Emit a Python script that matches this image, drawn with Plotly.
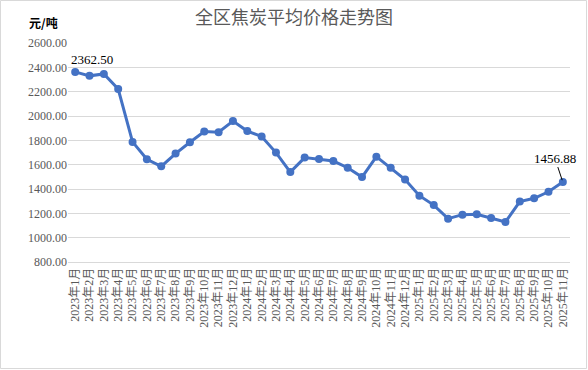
import plotly.graph_objects as go

months = [f"2023年{m}月" for m in range(1, 13)] + [f"2024年{m}月" for m in range(1, 13)] + [f"2025年{m}月" for m in range(1, 12)]
prices = [2362.50, 2330, 2346, 2222, 1787, 1644, 1586, 1691, 1784, 1873, 1867, 1958,
          1876, 1832, 1699, 1539, 1658, 1647, 1630, 1575, 1498, 1666, 1575, 1478,
          1345, 1268, 1156, 1189, 1192, 1162, 1129, 1297, 1324, 1377, 1456.88]
y_ticks = [800, 1000, 1200, 1400, 1600, 1800, 2000, 2200, 2400, 2600]

W, H = 588, 370
L, R, T, B = 68, 18, 43, 108
pw, ph = W - L - R, H - T - B

serif = "Liberation Serif, Times New Roman, Noto Sans CJK SC, serif"
grey = "#595959"

fig = go.Figure()
fig.add_trace(go.Scatter(
    x=months, y=prices, mode="lines+markers",
    line=dict(color="#4472C4", width=3),
    marker=dict(color="#4472C4", size=8),
    hoverinfo="x+y", showlegend=False,
))

fig.add_annotation(x=months[0], y=prices[0], text=f"{prices[0]:.2f}", showarrow=False,
                   xanchor="left", yanchor="bottom", xshift=-6, yshift=3,
                   font=dict(family=serif, size=13, color="#000000"))
fig.add_annotation(x=months[-1], y=prices[-1], text=f"{prices[-1]:.2f}", showarrow=True,
                   arrowhead=0, arrowwidth=1, arrowcolor="#000000", ax=-8, ay=-24,
                   standoff=2, font=dict(family=serif, size=13, color="#000000"))

fig.add_annotation(xref="paper", yref="paper", x=-41 / pw, y=1 + 21 / ph, text="<b>元/吨</b>",
                   showarrow=False, xanchor="left", yanchor="middle",
                   font=dict(family="Noto Sans CJK SC", size=12, color="#000000"))

fig.add_shape(type="rect", xref="paper", yref="paper",
              x0=-(L - 0.5) / pw, x1=1 + (R - 1.5) / pw,
              y0=-(B - 1.5) / ph, y1=1 + (T - 0.5) / ph,
              line=dict(color="#D9D9D9", width=1), layer="below")

fig.update_layout(
    width=W, height=H,
    margin=dict(l=L, r=R, t=T, b=B),
    paper_bgcolor="#FFFFFF", plot_bgcolor="#FFFFFF",
    title=dict(text="全区焦炭平均价格走势图", x=0.5, xref="container", xanchor="center",
               y=1 - 18 / H, yanchor="middle",
               font=dict(family="Noto Sans CJK SC", size=18, color=grey)),
    xaxis=dict(type="category", tickangle=-90, showgrid=False, ticks="",
               showline=True, linecolor="#D9D9D9", linewidth=1,
               tickfont=dict(family=serif, size=12, color=grey),
               range=[-0.5, len(months) - 0.5]),
    yaxis=dict(range=[800, 2600], tickvals=y_ticks, ticktext=[f"{v:.2f}" for v in y_ticks],
               showgrid=True, gridcolor="#D9D9D9", gridwidth=1, zeroline=False,
               ticks="", tickfont=dict(family=serif, size=12, color=grey)),
)

fig.write_html("out.html", config={"displayModeBar": False},
               post_script="document.body.style.margin='0';document.body.style.overflow='hidden';")
